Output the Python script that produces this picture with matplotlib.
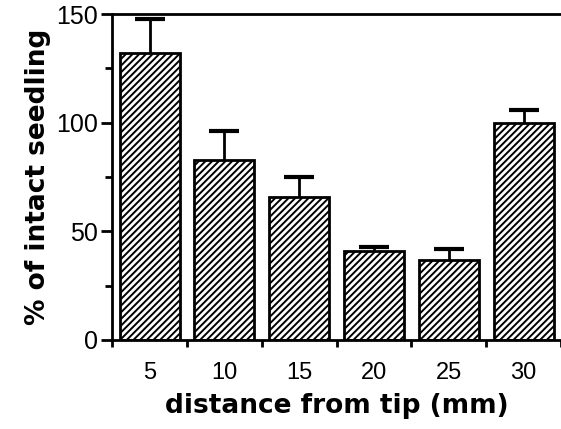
import matplotlib
matplotlib.use("Agg")
import matplotlib.pyplot as plt
import numpy as np
from matplotlib.ticker import FixedLocator

plt.rcParams["font.family"] = ["Liberation Sans", "DejaVu Sans"]
plt.rcParams["hatch.linewidth"] = 1.4

# data
distances = ["5", "10", "15", "20", "25", "30"]
percent_intact = [132, 83, 66, 41, 37, 100]
sem_upper = [16, 13, 9, 2, 5, 6]

fig = plt.figure(figsize=(5.61, 4.29), dpi=100)
ax = fig.add_axes([0.2, 0.2075, 0.8, 0.7595])

x = np.arange(len(distances)) + 0.5
ax.bar(x, percent_intact, width=0.8, color="white", edgecolor="black",
       linewidth=2, hatch="/////", zorder=2)
_, caps, _ = ax.errorbar(x, percent_intact,
                         yerr=[np.zeros(len(sem_upper)), sem_upper],
                         fmt="none", ecolor="black", elinewidth=2, capsize=11,
                         capthick=3, zorder=3)
caps[0].set_visible(False)  # upper bars only

ax.set_xlim(0, 5.95)
ax.set_ylim(0, 150)
ax.spines["right"].set_visible(False)
for s in ("left", "bottom", "top"):
    ax.spines[s].set_linewidth(2)

ax.set_yticks([0, 50, 100, 150])
ax.yaxis.set_minor_locator(FixedLocator([25, 75, 125]))
ax.tick_params(axis="y", which="major", length=8, width=2, labelsize=18, pad=2)
ax.tick_params(axis="y", which="minor", length=5, width=2)

# ticks between bars, labels under bar centres
ax.set_xticks(np.arange(0, 7))
ax.set_xticklabels([])
ax.set_xticks(x, minor=True)
ax.set_xticklabels(distances, minor=True)
ax.tick_params(axis="x", which="major", length=5, width=2, direction="out")
ax.tick_params(axis="x", which="minor", length=0, labelsize=17, pad=16)

ax.set_xlabel("distance from tip (mm)", fontsize=19, fontweight="bold",
              family="DejaVu Sans", labelpad=6)
ax.set_ylabel("% of intact seedling", fontsize=19, fontweight="bold",
              family="DejaVu Sans", labelpad=4)

fig.savefig("out.png", dpi=100)
